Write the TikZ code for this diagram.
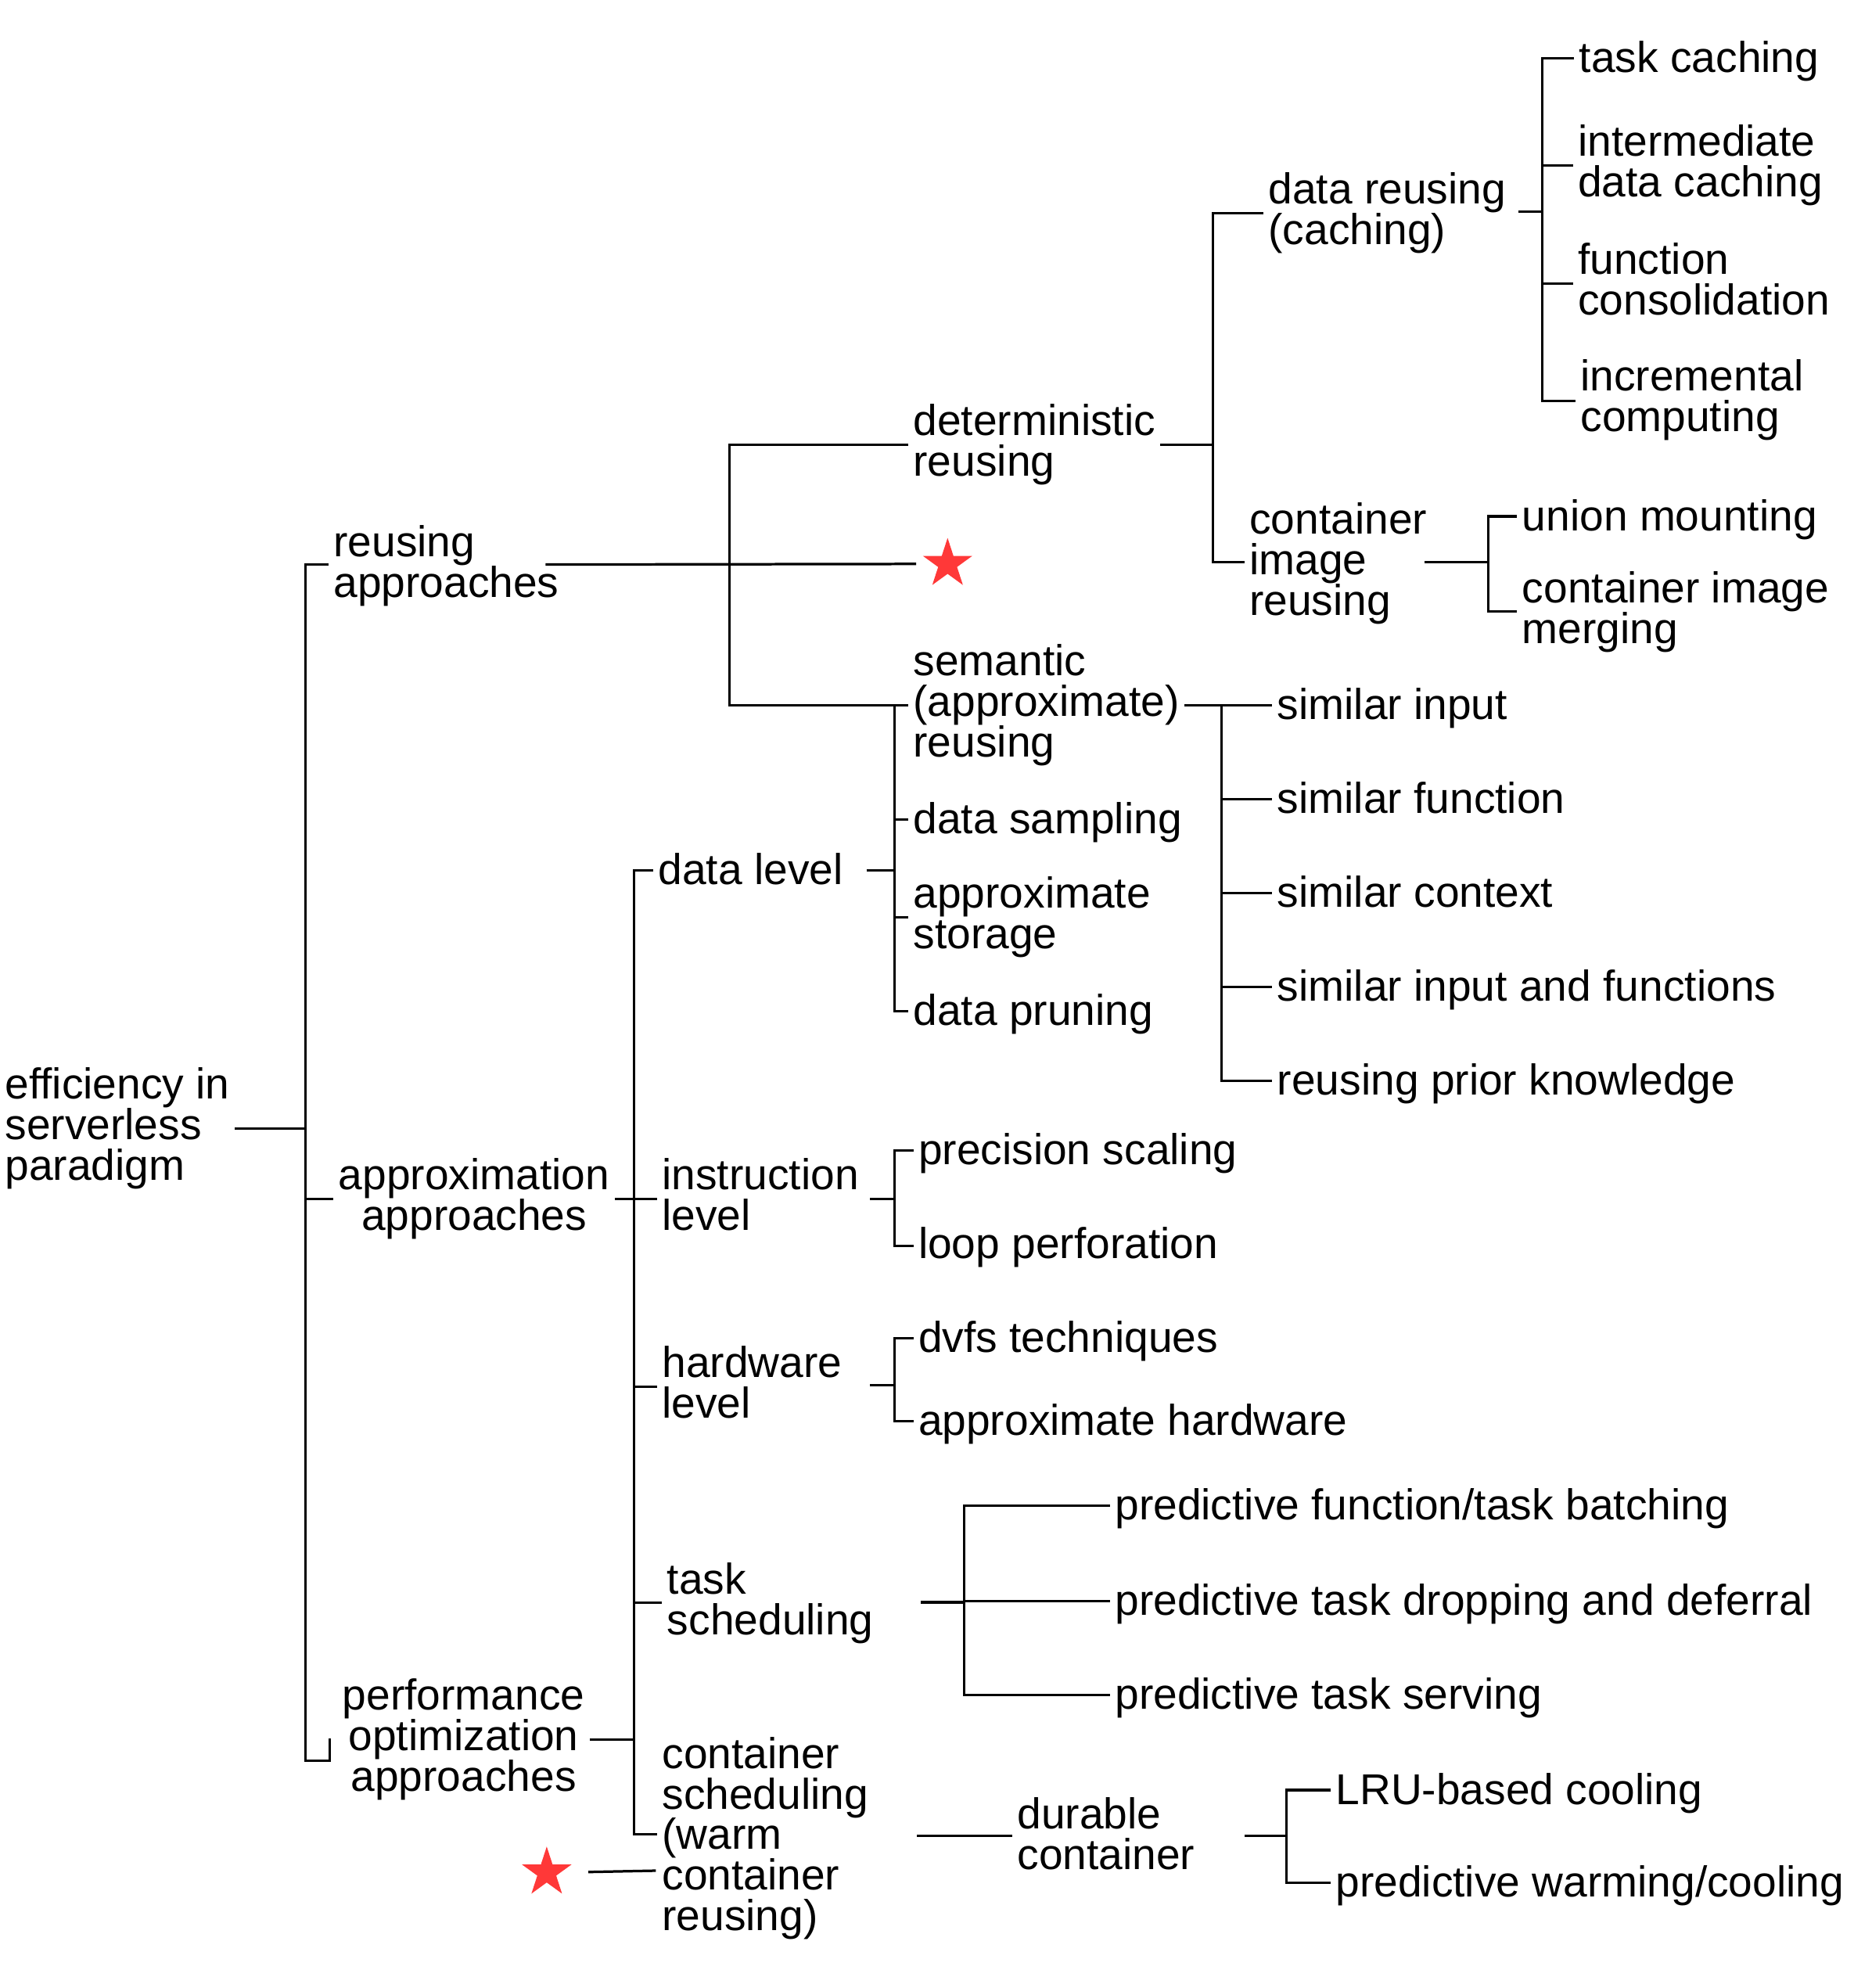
\documentclass[tikz,border=0pt]{standalone}
\usepackage{fontspec}
\setmainfont{Liberation Sans}
\usetikzlibrary{shapes.geometric}
\definecolor{starred}{RGB}{255,56,56}
\begin{document}
\begin{tikzpicture}[x=0.5pt,y=-0.5pt,
  lbl/.style={inner sep=0pt,outer sep=2pt,anchor=west,align=left,xshift=-2pt,
    font=\fontsize{17}{16}\selectfont,
    execute at begin node={\rule{0pt}{14.7pt}},execute at end node={\vphantom{g}}},
  ctr/.style={lbl,align=center},
  conn/.style={draw=black,line width=1pt},
  redstar/.style={star,star points=5,star point ratio=2.618,minimum size=20.5pt,
    inner sep=0pt,outer sep=0pt,fill=starred,draw=none}]
\fill[white] (0,0) rectangle (1461,1567);
\useasboundingbox (0,0) rectangle (1461,1567);

% ---------- nodes ----------
\node[lbl] (root) at (4,889.5) {efficiency in\\serverless\\paradigm};
\node[lbl] (ra) at (263,446) {reusing\\approaches};
\node[ctr] (aa) at (267,945) {approximation\\approaches};
\node[ctr] (poa) at (270,1371) {performance\\optimization\\approaches};

\node[lbl] (dr) at (720,350.5) {deterministic\\reusing};
\node[lbl] (sr) at (720,556) {semantic\\(approximate)\\reusing};
\node[redstar] (star1) at (747,444.5) {};

\node[lbl] (drc) at (1000,168) {data reusing\\(caching)};
\node[lbl] (cir) at (985,444) {container\\image\\reusing};

\node[lbl] (tc) at (1245,46) {task caching};
\node[lbl] (idc) at (1244,130.5) {intermediate\\data caching};
\node[lbl] (fc) at (1244,223.5) {function\\consolidation};
\node[lbl] (ic) at (1246,315.5) {incremental\\computing};

\node[lbl] (um) at (1200,407) {union mounting};
\node[lbl] (cim) at (1200,482.5) {container image\\merging};

\node[lbl] (si1) at (1007,556) {similar input};
\node[lbl] (si2) at (1007,630) {similar function};
\node[lbl] (si3) at (1007,704) {similar context};
\node[lbl] (si4) at (1007,778) {similar input and functions};
\node[lbl] (si5) at (1007,852) {reusing prior knowledge};

\node[lbl] (dl) at (519,686) {data level};
\node[lbl] (ds) at (720,646) {data sampling};
\node[lbl] (as) at (720,723) {approximate\\storage};
\node[lbl] (dp) at (720,797) {data pruning};

\node[lbl] (il) at (522,945) {instruction\\level};
\node[lbl] (ps) at (724,907) {precision scaling};
\node[lbl] (lp) at (724,981) {loop perforation};

\node[lbl] (hl) at (522,1093) {hardware\\level};
\node[lbl] (dvfs) at (724,1055) {dvfs techniques};
\node[lbl] (ah) at (724,1120) {approximate hardware};

\node[lbl] (ts) at (526,1263.5) {task\\scheduling};
\node[lbl] (pb) at (879,1187) {predictive function/task batching};
\node[lbl] (pd) at (879,1262) {predictive task dropping and deferral};
\node[lbl] (pts) at (879,1336) {predictive task serving};

\node[lbl] (cs) at (522,1449) {container\\scheduling\\(warm\\container\\reusing)};
\node[lbl] (dc) at (802,1449) {durable\\container};
\node[lbl] (lru) at (1053,1411) {LRU-based cooling};
\node[lbl] (pwc) at (1053,1484) {predictive warming/cooling};
\node[redstar] (star2) at (431,1476) {};

% ---------- connectors ----------
\coordinate (b0t) at (241,445);
\coordinate (b0b) at (241,1388);
\coordinate (pk) at (260,1370);
\draw[conn] (root.east) -- (root.east -| b0t);
\draw[conn] (ra.west |- b0t) -- (b0t) -- (b0b) -| (pk);
\draw[conn] (b0t |- aa.west) -- (aa.west);

% reusing approaches
\coordinate (rao) at (430,445);
\coordinate (rb) at (575,556);
\draw[conn,shorten >=7pt] (rao) -- (star1.west);
\draw[conn] (dr.west) -| (rb) -- (sr.west);

% deterministic reusing
\coordinate (db) at (956,443);
\draw[conn] (dr.east) -- (dr.east -| db);
\draw[conn] (drc.west) -| (db) -- (cir.west |- db);

% data reusing (caching)
\coordinate (dro) at (1197,167);
\coordinate (cb) at (1216,316);
\draw[conn] (dro) -- (dro -| cb);
\draw[conn] (tc.west) -| (cb) -- (ic.west |- cb);
\draw[conn] (idc.west -| cb) -- (idc.west);
\draw[conn] (fc.west -| cb) -- (fc.west);

% container image reusing
\coordinate (cio) at (1123,443);
\coordinate (ub) at (1173,482);
\draw[conn] (cio) -- (cio -| ub);
\draw[conn] (um.west) -| (ub) -- (cim.west |- ub);

% semantic reusing
\coordinate (sb) at (963,556);
\draw[conn] (sr.east) -- (si1.west);
\draw[conn] (sb) |- (si5.west);
\draw[conn] (si2.west -| sb) -- (si2.west);
\draw[conn] (si3.west -| sb) -- (si3.west);
\draw[conn] (si4.west -| sb) -- (si4.west);

% data level
\coordinate (dlo) at (683,686);
\coordinate (lb) at (705,556);
\draw[conn] (dlo) -- (dlo -| lb);
\draw[conn] (lb) |- (dp.west);
\draw[conn] (ds.west -| lb) -- (ds.west);
\draw[conn] (as.west -| lb) -- (as.west);

% approximation / performance bus
\coordinate (ab) at (500,1446);
\draw[conn] (dl.west) -| (ab) -- (cs.west |- ab);
\draw[conn] (aa.east) -- (il.west);
\draw[conn] (ab |- hl.west) -- (hl.west);
\draw[conn] (ab |- ts.west) -- (ts.west);
\draw[conn] (poa.east) -- (poa.east -| ab);

% instruction level
\coordinate (ilo) at (686,945);
\coordinate (ib) at (705,982);
\draw[conn] (ilo) -- (ilo -| ib);
\draw[conn] (ps.west) -| (ib) -- (lp.west |- ib);

% hardware level
\coordinate (hlo) at (686,1092);
\coordinate (hb) at (705,1120);
\draw[conn] (hlo) -- (hlo -| hb);
\draw[conn] (dvfs.west) -| (hb) -- (ah.west |- hb);

% task scheduling
\coordinate (tso) at (726,1263);
\coordinate (tb) at (760,1336);
\draw[conn,line width=1.5pt] (tso) -- (tso -| tb);
\draw[conn] (pb.west) -| (tb) -- (pts.west |- tb);
\draw[conn] (tb |- pd.west) -- (pd.west);

% container scheduling
\coordinate (cso) at (723,1447);
\draw[conn] (cso) -- (dc.west |- cso);
\coordinate (dco) at (981,1447);
\coordinate (wb) at (1014,1484);
\draw[conn] (dco) -- (dco -| wb);
\draw[conn] (lru.west) -| (wb) -- (pwc.west |- wb);

% star marker for warm container reusing
\coordinate (s2t) at (517,1474.5);
\draw[conn,shorten <=11pt] (star2.east) -- (s2t);
\end{tikzpicture}
\end{document}
